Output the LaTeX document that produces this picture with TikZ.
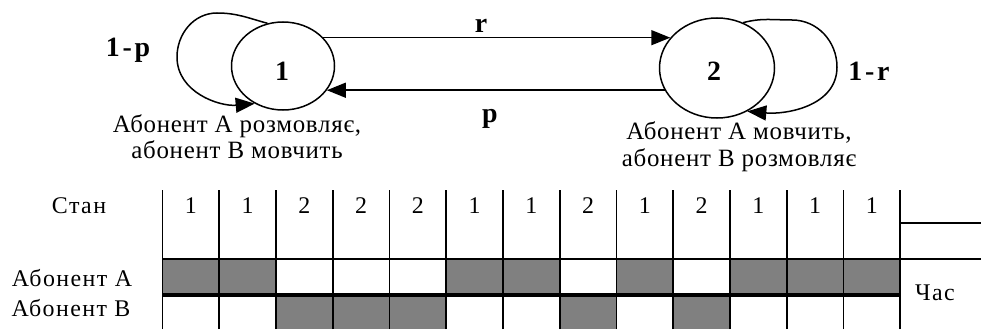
\documentclass[tikz,border=0pt]{standalone}
\usepackage{fontspec}
\setmainfont{Liberation Serif}
\newfontfamily\spacedserif[LetterSpace=6]{Liberation Serif}
\newfontfamily\notefont[LetterSpace=3]{Liberation Serif}
\newfontfamily\boldspaced[LetterSpace=10]{Liberation Serif Bold}
\usetikzlibrary{shapes.geometric,arrows.meta}
\begin{document}
\begin{tikzpicture}[x=1bp,y=1bp,
  state/.style={draw, ellipse, line width=1.5bp, inner sep=0pt},
  lbl/.style={font=\fontsize{28}{30}\boldspaced, anchor=base, inner sep=0pt},
  note/.style={font=\fontsize{25}{28}\notefont, anchor=base, inner sep=0pt},
  cell/.style={font=\fontsize{24}{28}\spacedserif, anchor=base, inner sep=0pt},
  tip/.style={-{Triangle[length=19bp,width=15bp]}},
  edge/.style={line width=1.5bp},
  grid/.style={line width=1.6bp},
  shade/.style={fill=gray}
]
\useasboundingbox (0,0) rectangle (981,329);

% --- state graph ---
\node[state, minimum width=103bp, minimum height=88bp] (c1) at (283,263) {};
\node[state, minimum width=115bp, minimum height=100bp] (c2) at (717,261) {};
\node[lbl] (n1) at (282,249) {1};
\node[lbl] (n2) at (714,249) {2};

% self loops
\draw[edge, tip] (c1.110) to[out=165,in=0] (217,316) to[out=180,in=90] (177,272)
  to[out=-90,in=185] (c1.233);
\draw[edge, tip] (c2.60) to[out=15,in=180] (792,309) to[out=0,in=90] (837,262)
  to[out=-90,in=-5] (c2.305);
\node[lbl] (lp) at (128,273) {1-p};
\node[lbl] (lr) at (869,249) {1-r};

% transitions between the states
\draw[edge, tip] (c1.35) -- (c1.35 -| c2.147);
\draw[edge, tip] (c2.203) -- (c2.203 -| c1.331);
\node[lbl] (lbr) at (481,297) {r};
\node[lbl] (lbp) at (490,207) {p};

% state descriptions
\node[note] (d1a) at (237,197) {Абонент А розмовляє,};
\node[note] (d1b) at (237,171) {абонент В мовчить};
\node[note] (d2a) at (739,190) {Абонент А мовчить,};
\node[note] (d2b) at (739,163) {абонент В розмовляє};

% --- timeline table ---
\foreach \i in {1,2,6,7,9,11,12,13}
  \fill[shade] ({162.5+56.75*(\i-1)},34) rectangle ({162.5+56.75*\i},70);
\foreach \i in {3,4,5,8,10}
  \fill[shade] ({162.5+56.75*(\i-1)},0) rectangle ({162.5+56.75*\i},34);
\foreach \i in {0,...,13}
  \draw[grid] ({162.5+56.75*\i},0) -- ({162.5+56.75*\i},139);
\draw[grid] (162.5,70) -- (981,70);
\draw[grid] (900.25,106) -- (981,106);
\draw[line width=3.5bp] (162.5,34) -- (900.25,34);

\foreach \s [count=\i] in {1,1,2,2,2,1,1,2,1,2,1,1,1}
  \node[cell] at ({162.5+56.75*(\i-0.5)},116) {\s};
\node[cell] (stan) at (79,116) {Стан};
\node[cell] (aba) at (72,43) {Абонент А};
\node[cell] (abb) at (71,13) {Абонент В};
\node[cell] (time) at (935,29) {Час};
\end{tikzpicture}
\end{document}
